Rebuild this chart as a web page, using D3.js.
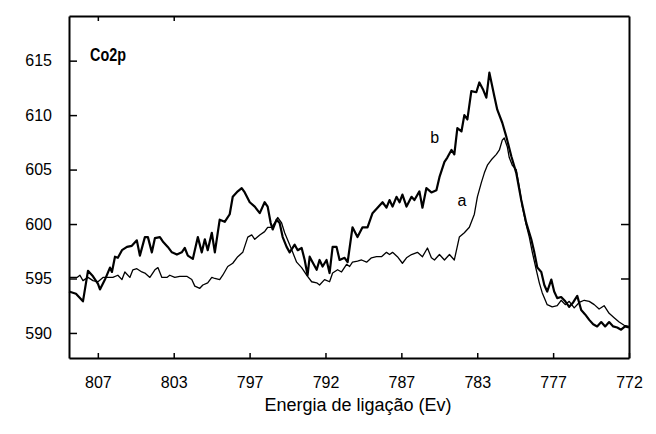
<!DOCTYPE html>
<html>
<head>
<meta charset="utf-8">
<script src="https://cdn.jsdelivr.net/npm/d3@7"></script>
<style>
  body { margin: 0; background: #fff; }
  svg { display: block; }
</style>
</head>
<body>
<svg id="chart"></svg>
<script>
'use strict';

// binding energy tick positions and the labels printed under them
var tickValues = [807, 802, 797, 792, 787, 782, 777, 772];
var tickLabels = ["807", "803", "797", "792", "787", "783", "777", "772"];
var yTicks = [590, 595, 600, 605, 610, 615];

// curve a (thin line)
var energyA = [808.9, 808.37, 808.18, 807.98, 807.65, 807.32, 806.99, 806.66, 806.4, 806.01,
  805.68, 805.41, 805.22, 804.89, 804.69, 804.43, 804.1, 803.9, 803.57, 803.24,
  803.04, 802.78, 802.45, 802.26, 801.93, 801.6, 801.14, 800.81, 800.61, 800.28,
  800.08, 799.76, 799.49, 799.29, 798.97, 798.77, 798.44, 798.11, 797.78, 797.45,
  797.12, 796.86, 796.66, 796.33, 796.01, 795.81, 795.54, 795.35, 795.15, 794.89,
  794.69, 794.36, 794.16, 793.9, 793.57, 793.24, 792.91, 792.58, 792.39, 792.06,
  791.73, 791.53, 791.2, 790.94, 790.61, 790.41, 790.22, 789.89, 789.62, 789.29,
  788.97, 788.64, 788.31, 787.98, 787.78, 787.58, 787.26, 786.93, 786.66, 786.33,
  785.94, 785.61, 785.28, 785.02, 784.82, 784.49, 784.16, 783.83, 783.51, 783.18,
  782.85, 782.52, 782.19, 781.99, 781.73, 781.53, 781.33, 781.07, 780.74, 780.54,
  780.35, 780.22, 780.02, 779.89, 779.69, 779.43, 779.23, 779.03, 778.77, 778.57,
  778.37, 778.11, 777.91, 777.72, 777.39, 777.06, 776.73, 776.47, 776.2, 775.94,
  775.61, 775.28, 774.95, 774.62, 774.29, 773.97, 773.64, 773.31, 772.98, 772.65,
  772.32, 772.0];
var countsA = [595.1, 595.1, 595.3, 594.8, 595.1, 594.8, 594.7, 595.1, 595.1, 595.1,
  595.3, 594.9, 595.6, 595.1, 595.8, 595.9, 595.6, 595.5, 595.1, 595.8,
  596.0, 595.1, 595.1, 595.3, 595.1, 595.2, 595.2, 594.9, 594.3, 594.1,
  594.4, 594.6, 595.1, 595.0, 594.9, 595.3, 596.1, 596.4, 597.0, 597.4,
  598.8, 599.0, 598.6, 599.0, 599.3, 599.7, 599.7, 600.1, 600.6, 600.1,
  599.2, 598.1, 597.4, 596.5, 596.0, 595.3, 594.7, 594.6, 594.4, 594.9,
  594.7, 595.5, 595.8, 595.6, 596.3, 596.1, 596.5, 596.6, 596.7, 596.5,
  596.9, 597.0, 597.0, 597.4, 597.2, 597.4, 597.0, 596.4, 596.9, 597.2,
  597.4, 597.0, 597.8, 596.9, 596.7, 597.2, 596.7, 597.2, 596.7, 598.8,
  599.2, 599.7, 600.9, 602.5, 603.8, 604.7, 605.4, 605.9, 606.4, 606.8,
  607.7, 607.9, 607.1, 606.1, 605.4, 605.0, 603.4, 601.6, 599.9, 598.8,
  597.4, 595.8, 594.6, 593.7, 592.6, 592.4, 592.5, 593.0, 592.6, 592.9,
  592.3, 592.8, 593.0, 592.9, 592.6, 592.2, 592.5, 591.8, 591.4, 591.0,
  590.7, 590.6];

// curve b (thick line)
var energyB = [808.9, 808.44, 807.98, 807.65, 807.32, 806.99, 806.86, 806.53, 806.2, 806.07,
  805.87, 805.68, 805.41, 805.08, 804.76, 804.43, 804.23, 803.9, 803.7, 803.44,
  803.24, 802.91, 802.72, 802.39, 802.12, 801.79, 801.47, 801.27, 801.07, 800.74,
  800.41, 800.15, 799.95, 799.76, 799.49, 799.29, 798.97, 798.64, 798.31, 798.11,
  797.78, 797.52, 797.32, 796.99, 796.66, 796.33, 796.01, 795.81, 795.61, 795.48,
  795.22, 795.02, 794.82, 794.56, 794.36, 794.03, 793.83, 793.57, 793.37, 793.18,
  793.04, 792.85, 792.58, 792.39, 792.19, 791.93, 791.73, 791.53, 791.27, 791.07,
  790.74, 790.54, 790.22, 789.89, 789.56, 789.23, 788.9, 788.57, 788.24, 787.98,
  787.78, 787.58, 787.32, 787.12, 786.93, 786.66, 786.33, 786.14, 785.81, 785.61,
  785.35, 785.02, 784.69, 784.49, 784.16, 783.97, 783.7, 783.51, 783.31, 783.04,
  782.85, 782.65, 782.39, 782.06, 781.86, 781.6, 781.4, 781.2, 780.87, 780.68,
  780.35, 780.08, 779.75, 779.43, 779.1, 778.77, 778.44, 778.24, 778.04, 777.78,
  777.58, 777.39, 777.12, 776.93, 776.73, 776.47, 776.2, 775.94, 775.68, 775.41,
  775.15, 774.89, 774.62, 774.36, 774.1, 773.83, 773.57, 773.31, 773.04, 772.78,
  772.52, 772.26, 772.0];
var countsB = [593.8, 593.6, 592.9, 595.7, 595.2, 594.5, 594.0, 594.9, 596.0, 595.6,
  597.0, 596.9, 597.6, 597.9, 598.0, 598.5, 597.1, 598.8, 598.8, 597.4,
  598.7, 598.8, 598.4, 597.9, 597.4, 597.2, 597.4, 597.8, 597.1, 596.8,
  598.8, 597.4, 598.6, 597.6, 599.2, 597.4, 600.4, 600.2, 600.9, 602.5,
  603.0, 603.3, 602.9, 602.0, 601.6, 601.0, 602.0, 601.6, 600.1, 599.5,
  600.4, 600.1, 598.8, 597.9, 597.4, 598.1, 597.6, 597.8, 596.7, 595.3,
  597.0, 596.5, 595.8, 596.7, 596.1, 596.7, 595.5, 597.9, 597.9, 596.7,
  596.9, 596.5, 599.7, 598.8, 599.7, 599.7, 601.0, 601.5, 602.0, 601.5,
  602.2, 601.6, 602.5, 602.0, 602.7, 601.6, 602.5, 602.2, 603.0, 601.5,
  603.3, 602.9, 603.1, 604.3, 605.7, 606.1, 606.8, 606.4, 608.8, 608.5,
  610.0, 609.6, 612.2, 612.1, 613.0, 612.3, 611.6, 613.9, 611.7, 610.5,
  609.3, 608.0, 606.2, 604.7, 602.2, 600.1, 598.6, 597.4, 596.0, 595.6,
  594.4, 593.8, 594.9, 593.8, 593.2, 593.3, 592.9, 592.4, 592.8, 593.4,
  592.1, 591.7, 591.2, 590.8, 590.6, 591.0, 590.6, 591.0, 590.6, 590.5,
  590.3, 590.6, 590.5];

var width = 656, height = 434;
var margin = {left: 69, top: 16, right: 27, bottom: 76};

var svg = d3.select("#chart")
    .attr("width", width)
    .attr("height", height);

// energy axis runs right to left, as usual for XPS
var x = d3.scaleLinear()
    .domain([808.9, 772])
    .range([margin.left, width - margin.right]);

var y = d3.scaleLinear()
    .domain([587.7, 619.1])
    .range([height - margin.bottom, margin.top]);

var font = '"Liberation Sans", Arial, sans-serif';

function styleAxis(g) {
    g.select(".domain").attr("stroke-width", 2);
    g.selectAll(".tick line").attr("stroke-width", 1.5);
    g.selectAll(".tick text")
        .attr("font-size", 16)
        .attr("font-family", font)
        .attr("fill", "#000");
}

// bottom axis, ticks pointing into the plot
var xAxis = d3.axisBottom(x)
    .tickValues(tickValues)
    .tickFormat(function(d, i) { return tickLabels[i]; })
    .tickSizeInner(-5)
    .tickSizeOuter(0)
    .tickPadding(19);

svg.append("g")
    .attr("transform", "translate(0," + y.range()[0] + ")")
    .call(xAxis)
    .call(styleAxis);

// top frame with only the two leftmost ticks
svg.append("g")
    .attr("transform", "translate(0," + y.range()[1] + ")")
    .call(d3.axisTop(x).tickValues(tickValues.slice(0, 2)).tickSizeInner(-5).tickSizeOuter(0).tickFormat(""))
    .call(styleAxis);

var yAxis = d3.axisLeft(y)
    .tickValues(yTicks)
    .tickSizeInner(-8)
    .tickSizeOuter(0)
    .tickPadding(17);

svg.append("g")
    .attr("transform", "translate(" + x.range()[0] + ",0)")
    .call(yAxis)
    .call(styleAxis);

// right frame, ticks point inward
svg.append("g")
    .attr("transform", "translate(" + x.range()[1] + ",0)")
    .call(d3.axisRight(y).tickValues([595, 600]).tickSizeInner(-8).tickSizeOuter(0).tickFormat(""))
    .call(styleAxis);

var line = d3.line()
    .x(function(d) { return x(d[0]); })
    .y(function(d) { return y(d[1]); });

svg.append("path")
    .datum(d3.zip(energyA, countsA))
    .attr("fill", "none")
    .attr("stroke", "#000")
    .attr("stroke-width", 1.3)
    .attr("stroke-linejoin", "round")
    .attr("d", line);

svg.append("path")
    .datum(d3.zip(energyB, countsB))
    .attr("fill", "none")
    .attr("stroke", "#000")
    .attr("stroke-width", 2.2)
    .attr("stroke-linejoin", "round")
    .attr("d", line);

// labels
svg.append("text")
    .attr("transform", "translate(90,61) scale(0.8,1)")
    .attr("font-family", font)
    .attr("font-weight", "bold")
    .attr("font-size", 18)
    .text("Co2p");

svg.append("text")
    .attr("x", x(784.8))
    .attr("y", y(607.4))
    .attr("font-family", font)
    .attr("font-size", 16)
    .attr("text-anchor", "middle")
    .text("b");

svg.append("text")
    .attr("x", x(783.0))
    .attr("y", y(601.7))
    .attr("font-family", font)
    .attr("font-size", 16)
    .attr("text-anchor", "middle")
    .text("a");

svg.append("text")
    .attr("x", 358)
    .attr("y", 411)
    .attr("font-family", font)
    .attr("font-size", 18)
    .attr("text-anchor", "middle")
    .text("Energia de ligação (Ev)");
</script>
</body>
</html>
